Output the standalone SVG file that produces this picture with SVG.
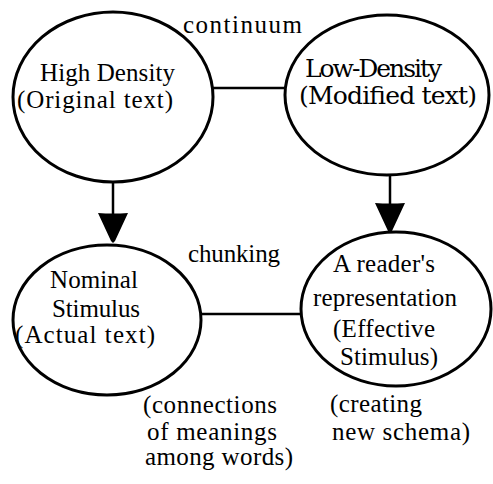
<svg xmlns="http://www.w3.org/2000/svg" width="493" height="484" viewBox="0 0 493 484">
  <style>
    .node ellipse { fill: #fff; stroke: #000; stroke-width: 3; }
    text { font-size: 25px; fill: #000; }
    .link { stroke: #000; stroke-width: 2.5; fill: none; }
  </style>
  <defs>
    <!-- blunt, heavy arrowhead used on the vertical connectors -->
    <marker id="head" markerUnits="userSpaceOnUse" viewBox="0 -16 31 32" markerWidth="31" markerHeight="32" refX="25" refY="0" orient="auto">
      <path d="M0,-15 Q1,0 0,15 L28,2 L30,0 L28,-2 Z" fill="#000"/>
    </marker>
  </defs>

  <rect width="493" height="484" fill="#fff"/>

  <g id="connectors">
    <line class="link" x1="212" y1="88" x2="286" y2="88"/>
    <line class="link" x1="200" y1="314" x2="302" y2="314"/>
    <line class="link" x1="113" y1="181" x2="113" y2="238" marker-end="url(#head)"/>
    <line class="link" x1="390" y1="174" x2="390" y2="228" marker-end="url(#head)"/>
  </g>

  <g id="high-density" class="node" font-family="Liberation Serif, serif">
    <ellipse cx="113" cy="97" rx="100" ry="85"/>
    <text x="40" y="81" textLength="135">High Density</text>
    <text x="17" y="108" textLength="156">(Original text)</text>
  </g>

  <g id="low-density" class="node" font-family="DejaVu Serif, serif">
    <ellipse cx="387" cy="95" rx="102" ry="80"/>
    <text x="305" y="77" font-size="22" textLength="137">Low-Density</text>
    <text x="299" y="104" font-size="24" textLength="178">(Modified text)</text>
  </g>

  <g id="nominal-stimulus" class="node" font-family="Liberation Serif, serif">
    <ellipse cx="107" cy="320" rx="94" ry="75"/>
    <text x="50" y="288" textLength="88">Nominal</text>
    <text x="52" y="317" textLength="88">Stimulus</text>
    <text x="15" y="343" textLength="140">(Actual text)</text>
  </g>

  <g id="effective-stimulus" class="node" font-family="Liberation Serif, serif">
    <ellipse cx="396" cy="309" rx="95" ry="77"/>
    <text x="333" y="272" textLength="102">A reader's</text>
    <text x="313" y="306" textLength="144">representation</text>
    <text x="333" y="337" textLength="102">(Effective</text>
    <text x="340" y="365" textLength="98">Stimulus)</text>
  </g>

  <g id="labels" font-family="Liberation Serif, serif">
    <text x="183" y="33" textLength="119">continuum</text>
    <text x="188" y="262" textLength="92">chunking</text>
    <text x="143" y="413" textLength="134">(connections</text>
    <text x="147" y="440" textLength="130">of meanings</text>
    <text x="145" y="465" textLength="148">among words)</text>
    <text x="330" y="412" textLength="92">(creating</text>
    <text x="332" y="440" textLength="138">new schema)</text>
  </g>
</svg>
